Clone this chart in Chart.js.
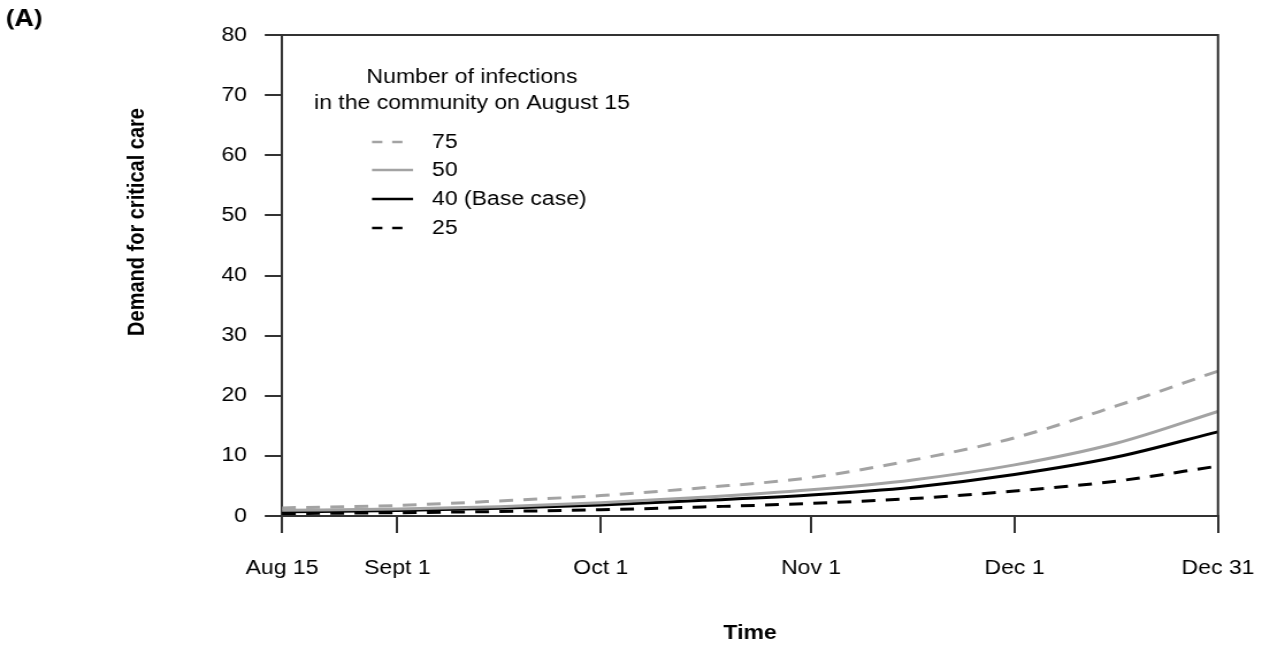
<!DOCTYPE html>
<html>
<head>
<meta charset="utf-8">
<script src="https://cdn.jsdelivr.net/npm/chart.js@4.4.1/dist/chart.umd.min.js"></script>
<style>
    html, body { margin: 0; padding: 0; background: #fff; }
    #wrap { width: 1262px; height: 647px; overflow: hidden; }
    /* la figura original esta estirada en horizontal */
    #demand-chart { width: 1262px; height: 647px; display: block; }
</style>
</head>
<body>
<div id="wrap"><canvas id="demand-chart" width="1097" height="647" style="width:1262px;height:647px"></canvas></div>
<script>
// dias desde el 15 de agosto
const days = [0, 17, 32, 47, 62, 78, 93, 108, 123, 138];
const tickDays = [0, 17, 47, 78, 108, 138];
const tickLabels = ['Aug 15', 'Sept 1', 'Oct 1', 'Nov 1', 'Dec 1', 'Dec 31'];

const seriesLabels = ['75', '50', '40 (Base case)', '25'];
const inf75 = [1.35, 1.75, 2.5, 3.4, 4.7, 6.4, 9.3, 13.0, 18.3, 24.1];
const inf50 = [0.95, 1.15, 1.55, 2.2, 3.1, 4.35, 6.0, 8.5, 12.1, 17.4];
const inf40 = [0.7, 0.9, 1.3, 1.85, 2.6, 3.5, 4.8, 6.9, 9.8, 14.0];
const inf25 = [0.4, 0.55, 0.75, 1.05, 1.5, 2.1, 2.9, 4.15, 5.8, 8.3];

const legendTitle = ['Number of infections', 'in the community on August 15'];
const yTitle = 'Demand for critical care';
const xTitle = 'Time';
const panelLabel = '(A)';

const GRAY = '#a3a3a3';
const AXIS = '#333333';
const FONT = "'Liberation Sans', Arial, sans-serif";
const SX = 1262 / 1097; // estiramiento horizontal del canvas

function points(values) {
    return values.map(function(v, i) { return { x: days[i], y: v }; });
}

// marco superior y derecho + textos
const framePlugin = {
    id: 'frame',
    afterDraw: function(chart) {
        const ctx = chart.ctx;
        const a = chart.chartArea;
        ctx.save();
        ctx.strokeStyle = AXIS;
        ctx.lineWidth = 2;
        ctx.beginPath();
        ctx.moveTo(a.left, a.top);
        ctx.lineTo(a.right, a.top);
        ctx.lineTo(a.right, a.bottom);
        ctx.stroke();

        // titulos
        ctx.fillStyle = '#000';
        ctx.font = 'bold 20px ' + FONT;
        ctx.textAlign = 'center';
        ctx.textBaseline = 'middle';
        ctx.fillText(xTitle, (a.left + a.right) / 2, 633);
        ctx.save();
        ctx.translate(137 / SX, 222);
        ctx.rotate(-Math.PI / 2);
        ctx.fillText(yTitle, 0, 0);
        ctx.restore();

        ctx.font = "bold 23px 'Open Sans', " + FONT;
        ctx.textAlign = 'left';
        ctx.fillText(panelLabel, 6 / SX, 19);

        // leyenda
        ctx.font = '20px ' + FONT;
        ctx.textAlign = 'center';
        ctx.fillText(legendTitle[0], 472 / SX, 77);
        ctx.fillText(legendTitle[1], 472 / SX, 103);
        const rowY = [142, 170, 199, 228];
        chart.data.datasets.forEach(function(ds, i) {
            const dashed = ds.borderDash.length > 0;
            ctx.strokeStyle = ds.borderColor;
            ctx.lineWidth = 2.5;
            ctx.setLineDash(dashed ? [9, 8.5] : []);
            ctx.beginPath();
            ctx.moveTo(372 / SX, rowY[i]);
            ctx.lineTo((dashed ? 403 : 413) / SX, rowY[i]);
            ctx.stroke();
            ctx.setLineDash([]);
            ctx.textAlign = 'left';
            ctx.fillText(ds.label, 432 / SX, rowY[i]);
        });
        ctx.restore();
    }
};

document.addEventListener('DOMContentLoaded', function() {
    Chart.defaults.font.family = FONT;
    Chart.defaults.font.size = 20;
    Chart.defaults.color = '#000';

    const ctx = document.getElementById('demand-chart').getContext('2d');
    new Chart(ctx, {
        type: 'line',
        data: {
            datasets: [{
                label: seriesLabels[0],
                data: points(inf75),
                borderColor: GRAY,
                borderDash: [12, 9],
                borderWidth: 3
            }, {
                label: seriesLabels[1],
                data: points(inf50),
                borderColor: GRAY,
                borderDash: [],
                borderWidth: 3
            }, {
                label: seriesLabels[2],
                data: points(inf40),
                borderColor: '#000',
                borderDash: [],
                borderWidth: 3
            }, {
                label: seriesLabels[3],
                data: points(inf25),
                borderColor: '#000',
                borderDash: [12, 9],
                borderWidth: 3
            }]
        },
        options: {
            responsive: false,
            animation: false,
            devicePixelRatio: 1,
            layout: { padding: { top: 35, right: 44 / SX, bottom: 0, left: 0 } },
            elements: {
                point: { radius: 0 },
                line: { cubicInterpolationMode: 'monotone', fill: false }
            },
            plugins: {
                legend: { display: false },
                tooltip: { enabled: false }
            },
            scales: {
                x: {
                    type: 'linear',
                    min: 0,
                    max: 138,
                    afterBuildTicks: function(scale) {
                        scale.ticks = tickDays.map(function(d) { return { value: d }; });
                    },
                    afterFit: function(scale) {
                        scale.height = 131;
                        scale.paddingLeft = 0;
                        scale.paddingRight = 0;
                    },
                    ticks: {
                        padding: 23,
                        maxRotation: 0,
                        autoSkip: false,
                        callback: function(value) {
                            const i = tickDays.indexOf(value);
                            return i >= 0 ? tickLabels[i] : '';
                        }
                    },
                    grid: { drawOnChartArea: false, tickLength: 17, color: AXIS, lineWidth: 2 },
                    border: { display: true, color: AXIS, width: 2 }
                },
                y: {
                    min: 0,
                    max: 80,
                    afterFit: function(scale) {
                        scale.width = 282 / SX;
                        scale.paddingTop = 0;
                        scale.paddingBottom = 0;
                    },
                    ticks: { stepSize: 10, padding: 15.5 },
                    grid: { drawOnChartArea: false, tickLength: 15, color: AXIS, lineWidth: 2 },
                    border: { display: true, color: AXIS, width: 2 }
                }
            }
        },
        plugins: [framePlugin]
    });
});
</script>
</body>
</html>
